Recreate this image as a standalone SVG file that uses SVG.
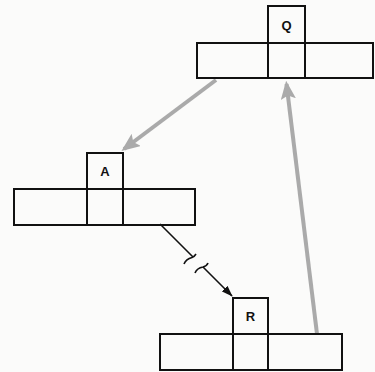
<svg xmlns="http://www.w3.org/2000/svg" width="375" height="372" viewBox="0 0 375 372">
<style>
.box{fill:none;stroke:#111;stroke-width:2}
.lbl{font-family:"Liberation Sans",Arial,sans-serif;font-size:13px;font-weight:bold;fill:#111;text-anchor:middle}
.gray{stroke:#aaaaaa;stroke-width:4;fill:none}
.blk{stroke:#111;stroke-width:1.6;fill:none}
</style>
<defs>
<marker id="gh" markerWidth="4.6" markerHeight="3.8" refX="3.8" refY="1.9" orient="auto" markerUnits="strokeWidth">
<path d="M0,0 L4.6,1.9 L0,3.8 L0.9,1.9 Z" fill="#aaaaaa"/>
</marker>
<marker id="bh" markerWidth="7" markerHeight="5" refX="6.5" refY="2.5" orient="auto" markerUnits="strokeWidth">
<path d="M0,0 L7,2.5 L0,5 Z" fill="#111"/>
</marker>
</defs>
<rect width="375" height="372" fill="#fbfbfa"/>
<g id="connectors">
<line class="gray" x1="216" y1="80" x2="124" y2="149" marker-end="url(#gh)"/>
<line class="gray" x1="317" y1="334" x2="286.5" y2="84" marker-end="url(#gh)"/>
<path class="blk" d="M160,224 L193,257"/>
<path class="blk" d="M196,254 Q194.5,256.5 192,257.5 Q186,259 184,264"/>
<path class="blk" d="M195,273 Q197,268 203,267 Q207,266 208,263"/>
<path class="blk" d="M203,267 L232,296" marker-end="url(#bh)"/>
</g>
<g id="nodeQ">
<rect class="box" x="268" y="6" width="37" height="37"/>
<rect class="box" x="197" y="43" width="176" height="35"/>
<line class="box" x1="268" y1="43" x2="268" y2="78"/>
<line class="box" x1="305" y1="43" x2="305" y2="78"/>
<text class="lbl" x="286.5" y="30">Q</text>
</g>
<g id="nodeA">
<rect class="box" x="87" y="153" width="36" height="36"/>
<rect class="box" x="14" y="189" width="181" height="36"/>
<line class="box" x1="87" y1="189" x2="87" y2="225"/>
<line class="box" x1="123" y1="189" x2="123" y2="225"/>
<text class="lbl" x="105" y="176">A</text>
</g>
<g id="nodeR">
<rect class="box" x="233" y="298" width="35" height="36"/>
<rect class="box" x="160" y="334" width="182" height="36"/>
<line class="box" x1="233" y1="334" x2="233" y2="370"/>
<line class="box" x1="268" y1="334" x2="268" y2="370"/>
<text class="lbl" x="250.5" y="321" font-weight="normal">R</text>
</g>
</svg>
